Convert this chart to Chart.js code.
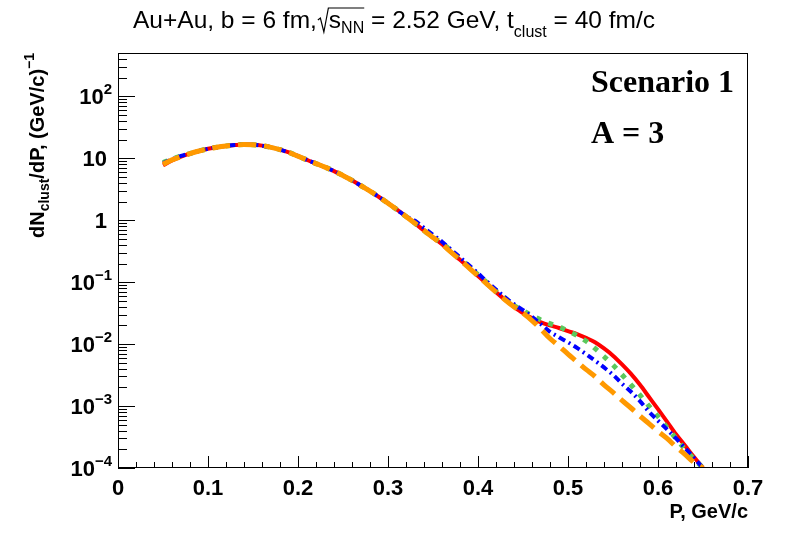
<!DOCTYPE html>
<html>
<head>
<meta charset="utf-8">
<script src="https://cdn.jsdelivr.net/npm/chart.js@4.4.0/dist/chart.umd.min.js"></script>
<style>
  body { margin: 0; background: #fff; }
  #wrap { width: 788px; height: 534px; position: relative; }
</style>
</head>
<body>
<div id="wrap"><canvas id="spectrum"></canvas></div>
<script>
// momentum grid, GeV/c
const pValues = [0.05, 0.06, 0.07, 0.08, 0.09, 0.10, 0.11, 0.12, 0.13, 0.14,
  0.15, 0.16, 0.17, 0.18, 0.19, 0.20, 0.21, 0.22, 0.23, 0.24,
  0.25, 0.26, 0.27, 0.28, 0.29, 0.30, 0.31, 0.32, 0.33, 0.34,
  0.35, 0.36, 0.37, 0.38, 0.39, 0.40, 0.41, 0.42, 0.43, 0.44,
  0.45, 0.46, 0.47, 0.48, 0.49, 0.50, 0.51, 0.52, 0.53, 0.54,
  0.55, 0.56, 0.57, 0.58, 0.59, 0.60, 0.61, 0.62, 0.63, 0.64, 0.65];

// dN/dP for the four curves (red solid, green dotted, blue dash-dot, orange dashed)
const redSolid = [7.7, 9.2, 10.6, 11.9, 13.1, 14.2, 15.1, 15.8, 16.3, 16.6,
  16.5, 16.0, 15.0, 13.8, 12.4, 10.8, 9.4, 8.2, 7.2, 6.2,
  5.25, 4.4, 3.6, 2.95, 2.37, 1.88, 1.48, 1.15, 0.89, 0.68,
  0.525, 0.41, 0.305, 0.229, 0.17, 0.126, 0.093, 0.069, 0.052, 0.040,
  0.0316, 0.0263, 0.0224, 0.0200, 0.0182, 0.0162, 0.0145, 0.0126, 0.0107, 0.0085,
  0.0065, 0.0047, 0.0033, 0.0022, 0.0014, 0.00089, 0.00056, 0.00035, 0.00023, 0.00015, 0.0001];
const greenDotted = [8.5, 9.7, 10.9, 11.9, 13.1, 14.2, 15.1, 15.8, 16.3, 16.6,
  16.5, 16.0, 15.0, 13.8, 12.4, 10.8, 9.4, 8.2, 7.2, 6.2,
  5.25, 4.4, 3.6, 2.95, 2.37, 1.88, 1.48, 1.15, 0.89, 0.68,
  0.525, 0.43, 0.32, 0.24, 0.178, 0.132, 0.098, 0.072, 0.055, 0.042,
  0.0347, 0.0288, 0.0245, 0.0214, 0.0191, 0.0162, 0.0138, 0.0112, 0.0085, 0.0063,
  0.0046, 0.0032, 0.0022, 0.0015, 0.0010, 0.00068, 0.00045, 0.0003, 0.0002, 0.00014, 0.0001];
const blueDashDot = [8.3, 9.6, 10.9, 11.9, 13.1, 14.2, 15.1, 15.8, 16.3, 16.6,
  16.5, 16.0, 15.0, 13.8, 12.4, 10.8, 9.4, 8.2, 7.2, 6.2,
  5.25, 4.4, 3.6, 2.95, 2.37, 1.88, 1.48, 1.15, 0.98, 0.75,
  0.58, 0.45, 0.335, 0.252, 0.187, 0.139, 0.102, 0.076, 0.057, 0.044,
  0.0355, 0.0275, 0.0209, 0.0158, 0.0129, 0.0107, 0.0087, 0.0069, 0.0054, 0.0042,
  0.0032, 0.0023, 0.0017, 0.0012, 0.00081, 0.00058, 0.00042, 0.0003, 0.00021, 0.000145, 0.0001];
const orangeDashed = [8.0, 9.4, 10.6, 11.9, 13.1, 14.2, 15.1, 15.8, 16.3, 16.6,
  16.5, 16.0, 15.0, 13.8, 12.4, 10.8, 9.4, 8.2, 7.2, 6.2,
  5.25, 4.4, 3.6, 2.95, 2.37, 1.88, 1.48, 1.15, 0.89, 0.68,
  0.525, 0.41, 0.305, 0.229, 0.17, 0.126, 0.093, 0.069, 0.052, 0.040,
  0.0316, 0.024, 0.0174, 0.0123, 0.0093, 0.0069, 0.0052, 0.0039, 0.0030, 0.0022,
  0.00166, 0.00123, 0.00093, 0.00069, 0.00052, 0.00039, 0.00030, 0.00022, 0.000166, 0.000123, 0.0001];

const xTickValues = [0, 0.1, 0.2, 0.3, 0.4, 0.5, 0.6, 0.7];
const xTickLabels = ['0', '0.1', '0.2', '0.3', '0.4', '0.5', '0.6', '0.7'];
const yTickValues = [1e-4, 1e-3, 1e-2, 1e-1, 1, 10, 100];
const yTickLabels = ['10^{\u22124}', '10^{\u22123}', '10^{\u22122}', '10^{\u22121}', '1', '10', '10^{2}'];

const toPoints = arr => pValues.map((p, i) => ({ x: p, y: arr[i] }));

// draws a list of text pieces one after another, returns x after the last one
function drawParts(ctx, parts, x, y) {
  for (const p of parts) {
    ctx.font = p.font;
    ctx.fillText(p.t, x, y + (p.dy || 0));
    x += ctx.measureText(p.t).width;
  }
  return x;
}
function partsWidth(ctx, parts) {
  let w = 0;
  for (const p of parts) { ctx.font = p.font; w += ctx.measureText(p.t).width; }
  return w;
}

const rootFrame = {
  id: 'rootFrame',
  afterDraw(chart) {
    const { ctx, chartArea: a, scales: { x, y } } = chart;
    ctx.save();
    ctx.strokeStyle = '#000';
    ctx.fillStyle = '#000';
    ctx.lineWidth = 1;
    ctx.strokeRect(a.left + 0.5, a.top + 0.5, a.right - a.left - 1, a.bottom - a.top - 1);

    // x ticks
    ctx.beginPath();
    xTickValues.forEach((v, i) => {
      const px = Math.round(x.getPixelForValue(v)) + 0.5;
      ctx.moveTo(px, a.bottom); ctx.lineTo(px, a.bottom - 12);
      if (i < xTickValues.length - 1) {
        const step = (xTickValues[i + 1] - v) / 5;
        for (let k = 1; k < 5; k++) {
          const mx = Math.round(x.getPixelForValue(v + k * step)) + 0.5;
          ctx.moveTo(mx, a.bottom); ctx.lineTo(mx, a.bottom - 6);
        }
      }
    });
    // y ticks
    yTickValues.forEach(v => {
      const py = Math.round(y.getPixelForValue(v)) + 0.5;
      ctx.moveTo(a.left, py); ctx.lineTo(a.left + 17, py);
      for (let k = 2; k <= 9; k++) {
        if (k * v > y.max) break;
        const my = Math.round(y.getPixelForValue(k * v)) + 0.5;
        ctx.moveTo(a.left, my); ctx.lineTo(a.left + 9, my);
      }
    });
    ctx.stroke();

    // tick labels
    ctx.textBaseline = 'alphabetic';
    ctx.textAlign = 'center';
    ctx.font = 'bold 22px "Liberation Sans", Arial, sans-serif';
    xTickValues.forEach((v, i) => {
      ctx.fillText(xTickLabels[i], x.getPixelForValue(v), a.bottom + 27);
    });
    ctx.textAlign = 'left';
    yTickValues.forEach((v, i) => {
      const m = yTickLabels[i].match(/^(.*?)\^\{(.*)\}$/);
      const parts = m
        ? [{ t: m[1], font: 'bold 22px "Liberation Sans", Arial, sans-serif' },
           { t: m[2], font: 'bold 15px "Liberation Sans", Arial, sans-serif', dy: -10 }]
        : [{ t: yTickLabels[i], font: 'bold 22px "Liberation Sans", Arial, sans-serif' }];
      const right = m ? 112 : 107;
      const w = partsWidth(ctx, parts);
      drawParts(ctx, parts, right - w, y.getPixelForValue(v) + 8);
    });

    // axis titles
    const xt = [{ t: 'P, GeV/c', font: 'bold 20px "Liberation Sans", Arial, sans-serif' }];
    drawParts(ctx, xt, a.right - partsWidth(ctx, xt), 518);

    const yt = [
      { t: 'dN', font: 'bold 20px "Liberation Sans", Arial, sans-serif' },
      { t: 'clust', font: 'bold 14px "Liberation Sans", Arial, sans-serif', dy: 5 },
      { t: '/dP, (GeV/c)', font: 'bold 20px "Liberation Sans", Arial, sans-serif' },
      { t: '\u22121', font: 'bold 14px "Liberation Sans", Arial, sans-serif', dy: -10 }
    ];
    ctx.save();
    ctx.translate(44, a.top);
    ctx.rotate(-Math.PI / 2);
    drawParts(ctx, yt, -partsWidth(ctx, yt), 0);
    ctx.restore();

    // title
    const reg = '24.5px "Liberation Sans", Arial, sans-serif';
    const small = '16px "Liberation Sans", Arial, sans-serif';
    const t1 = [{ t: 'Au+Au, b = 6 fm,', font: reg }];
    const t2 = [{ t: 's', font: reg }, { t: 'NN', font: small, dy: 5 }];
    const t3 = [{ t: ' = 2.52 GeV, t', font: reg }, { t: 'clust', font: small, dy: 9 },
                { t: ' = 40 fm/c', font: reg }];
    const radW = 12;
    const total = partsWidth(ctx, t1) + radW + partsWidth(ctx, t2) + partsWidth(ctx, t3);
    const base = 28;
    let cx = 394 - total / 2;
    cx = drawParts(ctx, t1, cx, base);
    const r0 = cx + 1;
    cx += radW;
    cx = drawParts(ctx, t2, cx, base);
    ctx.beginPath();
    ctx.lineWidth = 1.2;
    ctx.moveTo(r0, base - 8);
    ctx.lineTo(r0 + 2.5, base - 10);
    ctx.lineTo(r0 + 6, base + 4);
    ctx.lineTo(r0 + 10.5, base - 20);
    ctx.lineTo(cx, base - 20);
    ctx.stroke();
    drawParts(ctx, t3, cx, base);

    // scenario labels
    ctx.font = 'bold 32px "Liberation Serif", "Times New Roman", serif';
    ctx.fillText('Scenario 1', 591, 92);
    ctx.fillText('A = 3', 591, 143);
    ctx.restore();
  }
};

const common = { fill: false, pointRadius: 0, cubicInterpolationMode: 'monotone', borderCapStyle: 'butt' };

new Chart(document.getElementById('spectrum'), {
  type: 'line',
  data: {
    datasets: [
      { ...common, data: toPoints(orangeDashed), borderColor: '#ff9900', borderWidth: 5, borderDash: [18, 8], order: 0 },
      { ...common, data: toPoints(blueDashDot), borderColor: '#0000ff', borderWidth: 4, borderDash: [7, 4, 2, 4], order: 1 },
      { ...common, data: toPoints(greenDotted), borderColor: '#5cc85c', borderWidth: 5, borderDash: [5, 8], order: 2 },
      { ...common, data: toPoints(redSolid), borderColor: '#ff0000', borderWidth: 4, order: 3 }
    ]
  },
  options: {
    responsive: true,
    maintainAspectRatio: false,
    animation: false,
    layout: { padding: { left: 118, right: 40, top: 53, bottom: 66 } },
    plugins: { legend: { display: false }, tooltip: { enabled: false } },
    scales: {
      x: { type: 'linear', min: 0, max: 0.7, display: false },
      y: { type: 'logarithmic', min: 1e-4, max: 500, display: false }
    }
  },
  plugins: [rootFrame]
});
</script>
</body>
</html>
